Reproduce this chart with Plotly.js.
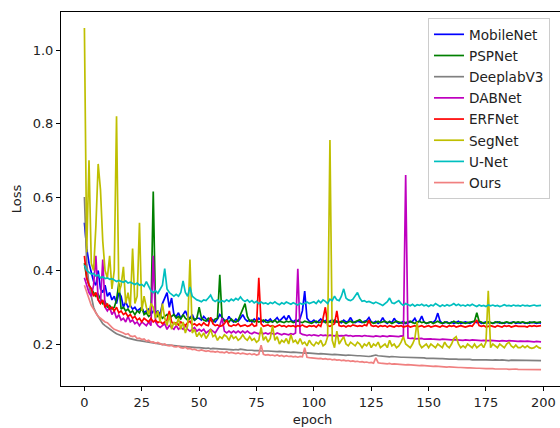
<!DOCTYPE html>
<html>
<head>
<meta charset="utf-8">
<script src="https://cdn.plot.ly/plotly-3.0.1.min.js"></script>
<style>
  html, body { margin: 0; padding: 0; width: 560px; height: 428px; overflow: hidden; background: #fff; }
  #chart { width: 566px; height: 428px; }
</style>
</head>
<body>
<div id="chart"></div>
<script>
const seriesNames = ["MobileNet", "PSPNet", "DeeplabV3", "DABNet", "ERFNet", "SegNet", "U-Net", "Ours"];
const xTicks = [0, 25, 50, 75, 100, 125, 150, 175, 200];
const yTicks = [0.2, 0.4, 0.6, 0.8, 1.0];

const MobileNet = [
0.53,0.46,0.42,0.39,0.37,0.36,0.40,0.35,0.34,0.36,
0.33,0.34,0.32,0.33,0.31,0.34,0.33,0.30,0.315,0.30,
0.305,0.295,0.30,0.29,0.295,0.30,0.285,0.29,0.295,0.28,
0.29,0.285,0.29,0.28,0.31,0.325,0.34,0.30,0.325,0.28,
0.275,0.285,0.27,0.28,0.29,0.275,0.27,0.28,0.265,0.27,
0.27,0.265,0.275,0.268,0.262,0.27,0.265,0.26,0.268,0.28,
0.272,0.265,0.262,0.275,0.265,0.26,0.268,0.262,0.27,0.28,
0.268,0.262,0.265,0.26,0.268,0.262,0.27,0.265,0.26,0.266,
0.262,0.268,0.26,0.265,0.272,0.262,0.268,0.275,0.265,0.278,
0.266,0.26,0.265,0.262,0.27,0.29,0.344,0.27,0.262,0.26,
0.265,0.258,0.262,0.268,0.26,0.264,0.258,0.262,0.266,0.258,
0.262,0.26,0.258,0.265,0.26,0.262,0.272,0.26,0.258,0.262,
0.26,0.258,0.262,0.264,0.272,0.26,0.258,0.262,0.256,0.26,
0.272,0.26,0.256,0.262,0.258,0.27,0.26,0.256,0.258,0.262,
0.256,0.258,0.26,0.262,0.27,0.258,0.262,0.276,0.26,0.256,
0.258,0.26,0.258,0.265,0.284,0.262,0.256,0.258,0.26,0.256,
0.26,0.256,0.258,0.262,0.256,0.258,0.26,0.258,0.256,0.26,
0.262,0.258,0.26,0.256,0.258,0.26,0.257,0.259,0.256,0.258,
0.26,0.257,0.258,0.256,0.259,0.257,0.258,0.26,0.256,0.258,
0.257,0.259,0.256,0.258,0.257,0.259,0.258,0.256,0.258,0.257];

const PSPNet = [
0.42,0.38,0.36,0.35,0.34,0.33,0.335,0.32,0.31,0.315,
0.30,0.305,0.295,0.30,0.32,0.365,0.295,0.30,0.29,0.295,
0.285,0.29,0.28,0.29,0.285,0.30,0.28,0.285,0.275,0.28,
0.615,0.29,0.275,0.28,0.27,0.275,0.28,0.27,0.275,0.28,
0.27,0.275,0.268,0.28,0.27,0.265,0.27,0.272,0.265,0.27,
0.30,0.27,0.265,0.262,0.27,0.265,0.26,0.268,0.27,0.388,
0.27,0.262,0.265,0.26,0.268,0.262,0.26,0.265,0.28,0.30,
0.31,0.275,0.262,0.265,0.26,0.264,0.26,0.262,0.265,0.26,
0.258,0.262,0.26,0.265,0.258,0.262,0.26,0.258,0.262,0.26,
0.262,0.258,0.26,0.264,0.26,0.258,0.262,0.26,0.258,0.256,
0.26,0.262,0.258,0.26,0.265,0.258,0.262,0.26,0.258,0.265,
0.26,0.258,0.262,0.26,0.256,0.26,0.262,0.258,0.26,0.262,
0.266,0.26,0.258,0.262,0.258,0.26,0.256,0.258,0.262,0.258,
0.26,0.262,0.258,0.26,0.256,0.258,0.262,0.26,0.258,0.256,
0.258,0.26,0.262,0.258,0.256,0.26,0.262,0.258,0.26,0.256,
0.258,0.26,0.256,0.258,0.262,0.258,0.256,0.26,0.258,0.256,
0.258,0.262,0.258,0.256,0.26,0.258,0.256,0.258,0.26,0.262,
0.262,0.285,0.262,0.26,0.256,0.258,0.26,0.258,0.256,0.26,
0.258,0.26,0.256,0.258,0.26,0.258,0.256,0.26,0.258,0.26,
0.258,0.26,0.258,0.256,0.26,0.258,0.26,0.258,0.259,0.26];

const DeeplabV3 = [
0.60,0.42,0.36,0.33,0.30,0.285,0.275,0.265,0.255,0.25,
0.245,0.24,0.235,0.232,0.228,0.225,0.222,0.22,0.218,0.216,
0.214,0.213,0.212,0.21,0.209,0.208,0.206,0.205,0.204,0.203,
0.203,0.201,0.2,0.2,0.199,0.198,0.197,0.197,0.196,0.195,
0.195,0.194,0.194,0.193,0.193,0.192,0.192,0.191,0.191,0.19,
0.19,0.189,0.189,0.188,0.189,0.187,0.188,0.187,0.186,0.187,
0.186,0.186,0.185,0.186,0.185,0.184,0.185,0.184,0.186,0.184,
0.184,0.183,0.184,0.183,0.182,0.183,0.182,0.181,0.182,0.181,
0.181,0.18,0.181,0.18,0.179,0.18,0.179,0.178,0.179,0.178,
0.177,0.178,0.177,0.176,0.177,0.176,0.175,0.176,0.175,0.174,
0.175,0.174,0.173,0.174,0.173,0.172,0.173,0.172,0.171,0.172,
0.171,0.17,0.171,0.17,0.169,0.17,0.169,0.168,0.169,0.168,
0.168,0.167,0.168,0.167,0.166,0.167,0.168,0.17,0.168,0.167,
0.166,0.167,0.166,0.165,0.166,0.165,0.164,0.165,0.164,0.164,
0.164,0.163,0.164,0.163,0.163,0.162,0.163,0.162,0.162,0.161,
0.162,0.161,0.161,0.16,0.161,0.16,0.16,0.159,0.16,0.159,
0.159,0.16,0.159,0.158,0.159,0.158,0.158,0.159,0.158,0.157,
0.158,0.157,0.157,0.158,0.157,0.157,0.156,0.157,0.156,0.157,
0.156,0.156,0.157,0.156,0.156,0.155,0.156,0.156,0.155,0.156,
0.155,0.156,0.155,0.155,0.156,0.155,0.155,0.156,0.155,0.155];

const DABNet = [
0.38,0.36,0.34,0.33,0.36,0.44,0.32,0.31,0.43,0.30,
0.29,0.30,0.28,0.29,0.27,0.28,0.265,0.27,0.26,0.275,
0.26,0.265,0.255,0.26,0.25,0.26,0.255,0.25,0.26,0.25,
0.44,0.26,0.25,0.245,0.25,0.255,0.24,0.25,0.245,0.24,
0.25,0.24,0.245,0.24,0.25,0.24,0.235,0.24,0.245,0.235,
0.24,0.235,0.24,0.23,0.235,0.24,0.235,0.23,0.24,0.25,
0.27,0.235,0.23,0.235,0.23,0.235,0.23,0.235,0.23,0.235,
0.23,0.235,0.23,0.228,0.232,0.23,0.228,0.232,0.228,0.23,
0.227,0.23,0.228,0.226,0.23,0.227,0.225,0.228,0.226,0.225,
0.228,0.226,0.23,0.405,0.23,0.226,0.225,0.223,0.225,0.223,
0.225,0.224,0.222,0.225,0.223,0.224,0.222,0.224,0.223,0.222,
0.224,0.222,0.223,0.222,0.224,0.222,0.223,0.221,0.222,0.223,
0.222,0.221,0.223,0.222,0.221,0.222,0.22,0.222,0.221,0.22,
0.222,0.221,0.22,0.222,0.221,0.22,0.221,0.22,0.222,0.221,
0.66,0.216,0.215,0.216,0.214,0.215,0.214,0.215,0.213,0.214,
0.213,0.214,0.213,0.212,0.213,0.212,0.213,0.212,0.211,0.212,
0.211,0.212,0.211,0.21,0.211,0.21,0.211,0.21,0.21,0.211,
0.21,0.209,0.21,0.209,0.21,0.209,0.209,0.21,0.209,0.208,
0.209,0.208,0.209,0.208,0.208,0.209,0.208,0.207,0.208,0.207,
0.208,0.207,0.207,0.208,0.207,0.207,0.206,0.207,0.207,0.206];

const ERFNet = [
0.44,0.38,0.36,0.35,0.33,0.34,0.32,0.31,0.32,0.30,
0.31,0.295,0.30,0.29,0.30,0.285,0.29,0.28,0.285,0.275,
0.28,0.27,0.275,0.265,0.27,0.26,0.27,0.265,0.26,0.27,
0.26,0.265,0.258,0.262,0.255,0.26,0.265,0.29,0.26,0.255,
0.258,0.252,0.26,0.255,0.25,0.258,0.262,0.252,0.255,0.25,
0.255,0.25,0.258,0.252,0.25,0.273,0.255,0.25,0.252,0.248,
0.25,0.255,0.265,0.25,0.248,0.252,0.25,0.255,0.248,0.25,
0.252,0.248,0.25,0.255,0.248,0.25,0.38,0.255,0.248,0.25,
0.252,0.248,0.25,0.246,0.25,0.252,0.248,0.25,0.246,0.25,
0.248,0.25,0.246,0.25,0.248,0.252,0.248,0.246,0.25,0.248,
0.25,0.246,0.252,0.248,0.27,0.30,0.25,0.248,0.252,0.255,
0.29,0.25,0.248,0.25,0.246,0.25,0.248,0.252,0.25,0.248,
0.25,0.248,0.252,0.25,0.265,0.25,0.248,0.25,0.246,0.25,
0.248,0.25,0.246,0.25,0.248,0.246,0.25,0.248,0.25,0.246,
0.248,0.25,0.246,0.248,0.25,0.246,0.248,0.25,0.246,0.248,
0.25,0.246,0.248,0.25,0.248,0.246,0.25,0.248,0.246,0.25,
0.248,0.25,0.246,0.248,0.25,0.248,0.246,0.248,0.25,0.248,
0.255,0.265,0.25,0.248,0.25,0.246,0.248,0.25,0.248,0.246,
0.25,0.248,0.246,0.25,0.248,0.25,0.246,0.248,0.25,0.248,
0.248,0.25,0.248,0.246,0.25,0.248,0.25,0.248,0.249,0.25];

const SegNet = [
1.06,0.45,0.70,0.42,0.40,0.52,0.69,0.62,0.48,0.40,
0.38,0.44,0.35,0.40,0.82,0.34,0.36,0.41,0.31,0.34,
0.30,0.46,0.31,0.33,0.53,0.29,0.33,0.30,0.28,0.31,
0.30,0.27,0.29,0.26,0.31,0.27,0.25,0.28,0.24,0.26,
0.25,0.27,0.24,0.26,0.23,0.25,0.43,0.23,0.24,0.22,
0.23,0.22,0.23,0.215,0.225,0.24,0.22,0.225,0.21,0.22,
0.215,0.225,0.22,0.21,0.225,0.215,0.22,0.21,0.215,0.225,
0.215,0.21,0.22,0.21,0.215,0.205,0.21,0.245,0.21,0.22,
0.205,0.215,0.25,0.21,0.22,0.20,0.21,0.205,0.215,0.20,
0.225,0.205,0.21,0.20,0.215,0.20,0.205,0.195,0.21,0.20,
0.195,0.205,0.20,0.21,0.195,0.20,0.22,0.755,0.21,0.19,
0.235,0.20,0.21,0.22,0.20,0.195,0.205,0.20,0.195,0.205,
0.20,0.19,0.20,0.195,0.205,0.19,0.20,0.195,0.205,0.19,
0.195,0.20,0.19,0.21,0.195,0.20,0.19,0.195,0.205,0.22,
0.20,0.195,0.19,0.20,0.215,0.26,0.20,0.19,0.195,0.20,
0.19,0.20,0.195,0.19,0.20,0.195,0.19,0.205,0.195,0.19,
0.20,0.215,0.22,0.20,0.19,0.195,0.19,0.20,0.195,0.19,
0.20,0.19,0.195,0.20,0.19,0.205,0.345,0.19,0.20,0.195,
0.19,0.20,0.195,0.19,0.20,0.205,0.195,0.19,0.197,0.19,
0.19,0.195,0.19,0.195,0.19,0.188,0.19,0.195,0.19,0.188];

const UNet = [
0.415,0.40,0.395,0.39,0.392,0.385,0.388,0.38,0.383,0.378,
0.38,0.376,0.378,0.374,0.37,0.373,0.37,0.368,0.372,0.366,
0.368,0.365,0.362,0.366,0.36,0.362,0.357,0.37,0.355,0.345,
0.34,0.345,0.338,0.35,0.36,0.405,0.35,0.34,0.335,0.33,
0.335,0.33,0.34,0.372,0.34,0.33,0.355,0.33,0.325,0.32,
0.318,0.315,0.32,0.318,0.325,0.333,0.32,0.316,0.32,0.314,
0.318,0.315,0.32,0.316,0.322,0.318,0.324,0.32,0.328,0.32,
0.316,0.32,0.314,0.318,0.312,0.316,0.31,0.314,0.31,0.312,
0.308,0.313,0.31,0.315,0.31,0.307,0.312,0.309,0.314,0.31,
0.308,0.312,0.31,0.306,0.311,0.308,0.31,0.314,0.31,0.312,
0.315,0.31,0.318,0.312,0.32,0.316,0.31,0.322,0.318,0.33,
0.32,0.318,0.33,0.35,0.325,0.32,0.318,0.322,0.33,0.34,
0.325,0.316,0.318,0.314,0.316,0.312,0.31,0.314,0.31,0.308,
0.305,0.31,0.315,0.325,0.312,0.31,0.315,0.318,0.31,0.305,
0.31,0.306,0.304,0.308,0.303,0.307,0.305,0.308,0.304,0.306,
0.302,0.306,0.304,0.31,0.305,0.302,0.306,0.303,0.307,0.304,
0.306,0.31,0.305,0.308,0.304,0.306,0.303,0.307,0.304,0.308,
0.305,0.302,0.306,0.303,0.305,0.302,0.306,0.304,0.306,0.303,
0.305,0.302,0.304,0.307,0.304,0.305,0.303,0.306,0.304,0.305,
0.303,0.306,0.304,0.305,0.303,0.305,0.306,0.304,0.305,0.305];

const Ours = [
0.36,0.34,0.32,0.305,0.295,0.285,0.275,0.27,0.265,0.26,
0.258,0.25,0.245,0.24,0.238,0.235,0.232,0.23,0.226,0.228,
0.222,0.22,0.222,0.215,0.216,0.212,0.214,0.208,0.21,0.205,
0.206,0.202,0.204,0.2,0.198,0.2,0.196,0.195,0.197,0.193,
0.192,0.194,0.19,0.189,0.191,0.187,0.188,0.185,0.186,0.183,
0.182,0.184,0.181,0.18,0.182,0.179,0.18,0.178,0.18,0.177,
0.178,0.176,0.179,0.175,0.177,0.176,0.174,0.176,0.173,0.175,
0.174,0.172,0.174,0.171,0.173,0.17,0.172,0.197,0.172,0.17,
0.171,0.169,0.17,0.168,0.17,0.167,0.169,0.166,0.168,0.166,
0.167,0.165,0.166,0.164,0.166,0.165,0.19,0.164,0.163,0.162,
0.161,0.162,0.16,0.161,0.159,0.16,0.158,0.159,0.157,0.158,
0.156,0.157,0.155,0.156,0.154,0.155,0.153,0.154,0.152,0.153,
0.151,0.152,0.15,0.151,0.149,0.15,0.148,0.162,0.149,0.148,
0.147,0.148,0.146,0.147,0.145,0.146,0.145,0.144,0.145,0.144,
0.143,0.144,0.143,0.142,0.143,0.142,0.141,0.142,0.141,0.14,
0.141,0.14,0.139,0.14,0.139,0.138,0.139,0.138,0.137,0.138,
0.137,0.136,0.137,0.136,0.136,0.135,0.136,0.135,0.135,0.134,
0.135,0.134,0.134,0.133,0.134,0.133,0.133,0.134,0.133,0.132,
0.133,0.132,0.132,0.133,0.132,0.131,0.132,0.131,0.132,0.131,
0.131,0.132,0.131,0.13,0.131,0.13,0.131,0.13,0.131,0.13];

const seriesValues = [MobileNet, PSPNet, DeeplabV3, DABNet, ERFNet, SegNet, UNet, Ours];
const seriesColors = ["#0000ff", "#008000", "#808080", "#bf00bf", "#ff0000", "#bfbf00", "#00bfbf", "#f08080"];

const traces = seriesValues.map((vals, k) => ({
  type: "scatter",
  mode: "lines",
  name: seriesNames[k],
  legendgroup: "g" + k,
  x: vals.map((_, i) => i),
  y: vals,
  line: { color: seriesColors[k], width: 1.7 },
  hoverinfo: "skip"
}));

const fam = "DejaVu Sans, sans-serif";

const layout = {
  width: 566,
  height: 428,
  margin: { l: 61, r: 2, t: 12, b: 42 },
  paper_bgcolor: "#ffffff",
  plot_bgcolor: "#ffffff",
  font: { family: fam, size: 13, color: "#222" },
  showlegend: true,
  legend: {
    x: 0.7296, xanchor: "left",
    y: 0.984, yanchor: "top",
    bgcolor: "rgba(255,255,255,0.85)",
    bordercolor: "#cccccc",
    borderwidth: 1,
    font: { family: fam, size: 13.6, color: "#222" },
    tracegroupgap: 0.5,
    entrywidth: 84,
    entrywidthmode: "pixels"
  },
  xaxis: {
    range: [-10.2, 209],
    tickmode: "array",
    tickvals: xTicks,
    ticktext: xTicks.map(String),
    ticks: "outside",
    ticklen: 4,
    tickwidth: 1,
    tickcolor: "#000",
    showline: true,
    linecolor: "#000",
    linewidth: 1,
    mirror: true,
    showgrid: false,
    zeroline: false,
    tickfont: { family: fam, size: 13, color: "#222" },
    title: { text: "epoch", font: { family: fam, size: 13, color: "#222" }, standoff: 6 }
  },
  yaxis: {
    range: [0.0857, 1.1034],
    tickmode: "array",
    tickvals: yTicks,
    ticktext: yTicks.map(v => v.toFixed(1)),
    ticks: "outside",
    ticklen: 4,
    tickwidth: 1,
    tickcolor: "#000",
    showline: true,
    linecolor: "#000",
    linewidth: 1,
    mirror: true,
    showgrid: false,
    zeroline: false,
    tickfont: { family: fam, size: 13, color: "#222" },
    title: { text: "Loss", font: { family: fam, size: 13, color: "#222" }, standoff: 8 }
  }
};

Plotly.newPlot("chart", traces, layout, { displayModeBar: false, staticPlot: true });
</script>
</body>
</html>
